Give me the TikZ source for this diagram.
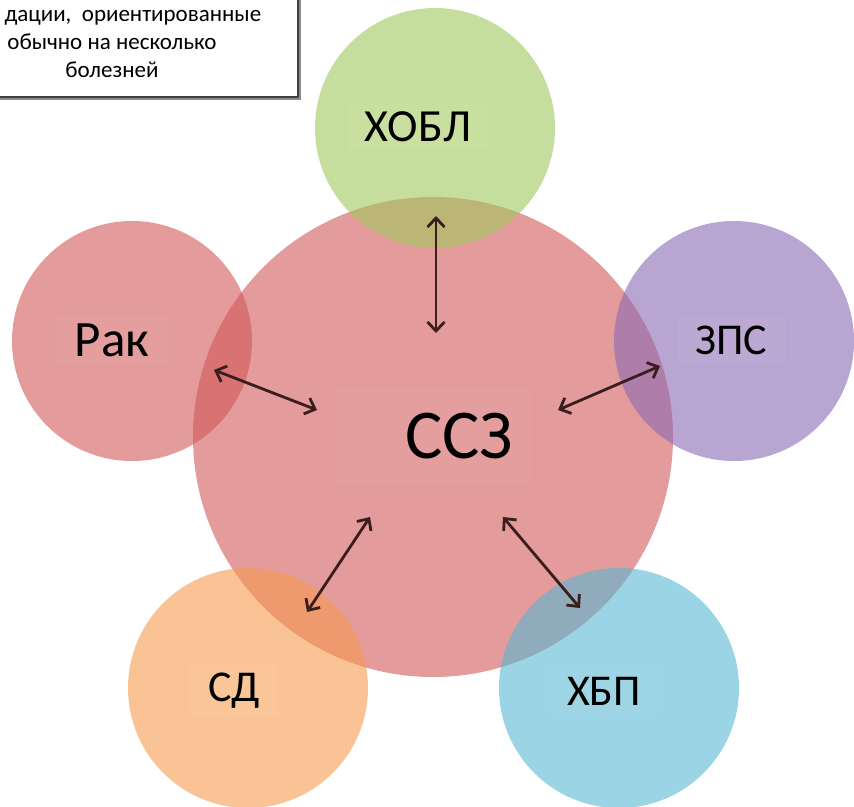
\documentclass[tikz,border=0pt]{standalone}
\usepackage{fontspec}
\setmainfont{Carlito}
\usetikzlibrary{arrows.meta}
\definecolor{cvdred}{RGB}{210,88,88}
\definecolor{copdgreen}{RGB}{160,200,92}
\definecolor{padviolet}{RGB}{138,105,180}
\definecolor{dmorange}{RGB}{247,155,80}
\definecolor{ckdblue}{RGB}{88,183,210}
\definecolor{linkdark}{RGB}{58,30,30}
\definecolor{boxline}{RGB}{64,64,64}
\definecolor{boxshade}{RGB}{140,140,140}
\newcommand{\lblsize}[1]{\fontsize{#1}{#1}\selectfont}
\tikzset{
  every picture/.style={line join=round, line cap=round, >={Straight Barb[length=9pt,width=17pt]}},
  disc/.style={circle, draw=none, inner sep=0pt, minimum size=240pt, fill opacity=0.6},
  lbl/.style={inner xsep=18pt, inner ysep=8pt, fill=white, fill opacity=0.035, text opacity=1},
  link/.style={<->, draw=linkdark, line width=2.8pt},
  notetext/.style={font=\lblsize{23}, anchor=base},
}

\begin{document}
\begin{tikzpicture}[x=1pt,y=-1pt]
\useasboundingbox (0,0) rectangle (854,806);
% note box, cut by the page edge
\fill[boxshade] (-17,-17) rectangle (301,100);
\draw[boxline, line width=2pt, fill=white] (-20,-20) rectangle (298,97);
\node[notetext, anchor=base west] (noteA) at (1,21) {дации,\ \ ориентированные};
\node[notetext] (noteB) at (112,49) {обычно на несколько};
\node[notetext] (noteC) at (112,77) {болезней};
% circles
\node[disc, fill=cvdred, minimum size=480pt] (cvd) at (433,437) {};
\foreach \nm/\pos/\col in {copd/{435,128}/copdgreen, cancer/{132,341}/cvdred,
                          pad/{734,341}/padviolet, dm/{248,688}/dmorange,
                          ckd/{619,688}/ckdblue}{
  \node[disc, fill=\col] (\nm) at (\pos) {};
}
% labels
\node[lbl, text width=161pt, align=right, inner xsep=17pt, minimum height=97pt, font=\lblsize{70}] (cvdlab) at (432,436) {ССЗ};
\node[lbl, font=\lblsize{46}] (copdlab) at (418,127) {ХОБЛ};
\node[lbl, font=\lblsize{51}] (cancerlab) at (112,340) {Рак};
\node[lbl, font=\lblsize{44}] (padlab) at (731,340) {ЗПС};
\node[lbl, font=\lblsize{44}] (dmlab) at (234,691) {СД};
\node[lbl, font=\lblsize{44}] (ckdlab) at (604,691) {ХБП};
% arrow ends
\coordinate (copdA) at (436,216); \coordinate (copdB) at (436,333);
\coordinate (cancerA) at (214,370); \coordinate (cancerB) at (317,410);
\coordinate (padA) at (660,366); \coordinate (padB) at (558,410);
\coordinate (dmA) at (307,612); \coordinate (dmB) at (370,517);
\coordinate (ckdA) at (580,608); \coordinate (ckdB) at (503,517);
\foreach \nm in {copd,cancer,pad,dm,ckd}{\draw[link] (\nm A) -- (\nm B);}
\end{tikzpicture}
\end{document}
